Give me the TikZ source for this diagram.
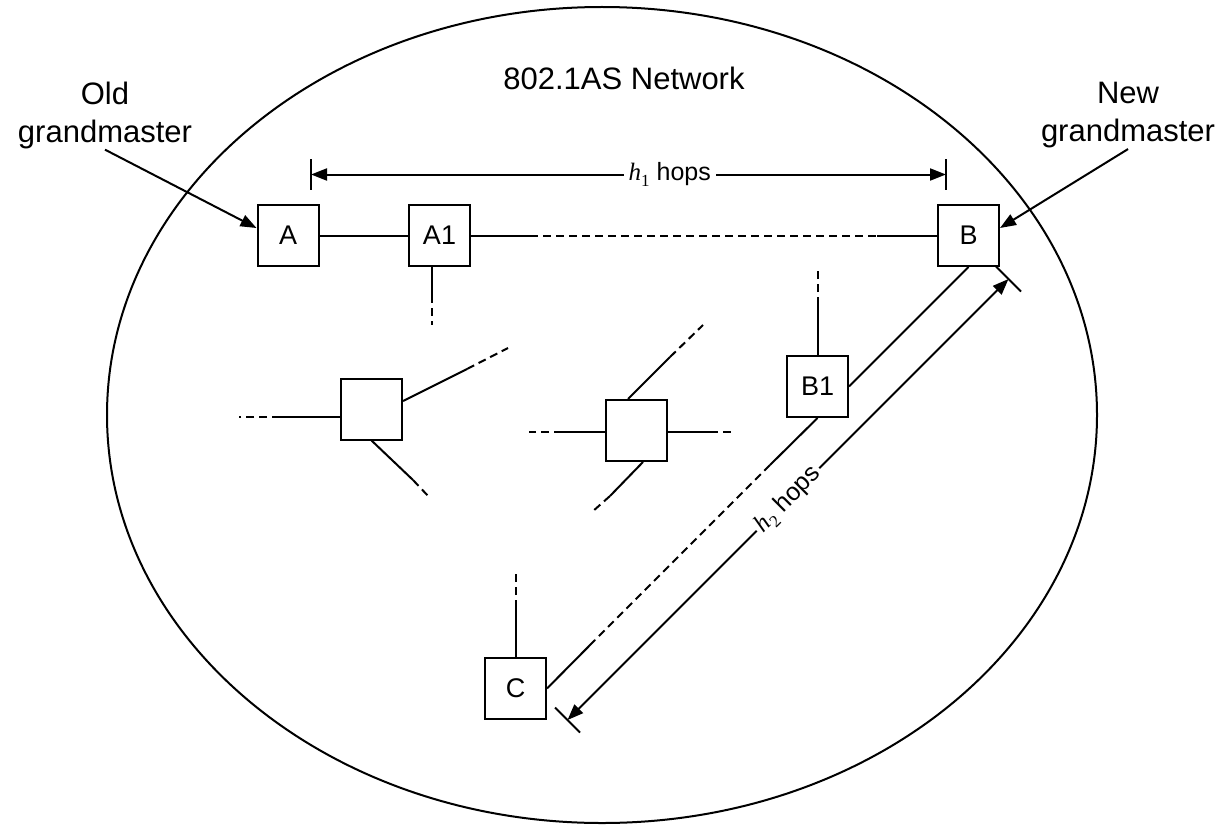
\documentclass[tikz,border=0pt]{standalone}
\usepackage{fontspec}
\setmainfont{Liberation Sans}
\newfontfamily\tnr{Liberation Serif}
\usetikzlibrary{arrows.meta}
\newcommand\hsub[1]{{\tnr\itshape h}\raisebox{-0.22em}{\fontsize{17}{17}\selectfont\tnr #1}}
\begin{document}
\begin{tikzpicture}[x=1pt,y=-1pt,
  box/.style={draw, line width=2pt, minimum size=61pt, inner sep=0pt, font=\fontsize{27}{32}\selectfont},
  wire/.style={line width=2pt},
  dwire/.style={line width=2pt, dash pattern=on 8pt off 5pt},
  tip/.style={line width=2pt, -{Triangle[length=16pt,width=12pt]}},
  dimline/.style={line width=2pt, {Triangle[length=16pt,width=12pt]}-{Triangle[length=16pt,width=12pt]}},
  big/.style={font=\fontsize{31}{38}\selectfont, align=center, inner sep=1pt},
  hops/.style={font=\fontsize{25}{30}\selectfont, fill=white, inner sep=5pt}]
\useasboundingbox (0,0) rectangle (1222,824);
\draw[line width=2pt] (602,415) ellipse [x radius=495pt, y radius=408pt];
\node[big, anchor=base] (net) at (624,90) {802.1AS Network};
\node[big] (old) at (105,115) {Old\\grandmaster};
\node[big] (new) at (1128,115) {New\\grandmaster};
% boxes
\node[box] (A)  at (288,235.5) {A};
\node[box] (A1) at (439.5,235.5) {A1};
\node[box] (B)  at (968.5,235.5) {B};
\node[box] (B1) at (817.5,386.5) {B1};
\node[box] (C)  at (515.5,688.5) {C};
\node[box] (N1) at (371.5,409) {};
\node[box] (N2) at (636,430.5) {};
% pointer arrows
\draw[tip] (old.south) -- ([yshift=7.5pt]A.west);
\draw[tip] (new.south) -- ([yshift=7.5pt]B.east);
% A - A1 - B
\draw[wire] (A.east) -- (A1.west);
\coordinate (ab1) at (530,235.5);
\coordinate (ab2) at (877,235.5);
\draw[wire] (A1.east) -- (ab1);
\draw[dwire] (ab1) -- (ab2);
\draw[wire] (ab2) -- (B.west);
% A1 down stub
\coordinate (a1s) at (432,295);
\coordinate (a1e) at (432,325);
\draw[wire] ([xshift=-7.5pt]A1.south) -- (a1s);
\draw[dwire] (a1s) -- (a1e);
% N1 stubs
\coordinate (n1ls) at (280,417); \coordinate (n1le) at (239,417);
\draw[wire] ([yshift=-8pt]N1.west) -- (n1ls);
\draw[dwire] (n1ls) -- (n1le);
\coordinate (n1rs) at (467,369); \coordinate (n1re) at (508,348);
\draw[wire] ([yshift=8pt]N1.east) -- (n1rs);
\draw[dwire] (n1rs) -- (n1re);
\coordinate (n1bs) at (413,480); \coordinate (n1be) at (430,498);
\draw[wire] (N1.south) -- (n1bs);
\draw[dwire] (n1bs) -- (n1be);
% N2 stubs
\coordinate (n2ls) at (562,432); \coordinate (n2le) at (529,432);
\draw[wire] ([yshift=-1.5pt]N2.west) -- (n2ls);
\draw[dwire] (n2ls) -- (n2le);
\coordinate (n2rs) at (710,432); \coordinate (n2re) at (733,432);
\draw[wire] ([yshift=-1.5pt]N2.east) -- (n2rs);
\draw[dwire] (n2rs) -- (n2re);
\coordinate (n2ts) at (670,357); \coordinate (n2te) at (703,325);
\draw[wire] ([xshift=-8pt]N2.north) -- (n2ts);
\draw[dwire] (n2ts) -- (n2te);
\coordinate (n2bs) at (610,496); \coordinate (n2be) at (592,512);
\draw[wire] ([xshift=7pt]N2.south) -- (n2bs);
\draw[dwire] (n2bs) -- (n2be);
% B1 stubs and links
\coordinate (b1ts) at (817.5,305); \coordinate (b1te) at (817.5,270);
\draw[wire] (B1.north) -- (b1ts);
\draw[dwire] (b1ts) -- (b1te);
\draw[wire] (B1.east) -- (B.south);
\coordinate (bc1) at (770,465); \coordinate (bc2) at (595,640);
\draw[wire] (B1.south) -- (bc1);
\draw[dwire] (bc1) -- (bc2);
\draw[wire] (bc2) -- (C.east);
% C stub
\coordinate (cts) at (515.5,608); \coordinate (cte) at (515.5,572);
\draw[wire] (C.north) -- (cts);
\draw[dwire] (cts) -- (cte);
% h1 dimension
\coordinate (h1l) at (311,174.5); \coordinate (h1r) at (946,174.5);
\draw[wire] ([yshift=15.5pt]h1l) -- ([yshift=-15.5pt]h1l);
\draw[wire] ([yshift=15.5pt]h1r) -- ([yshift=-15.5pt]h1r);
\draw[dimline] (h1l) -- node[hops, pos=0.565] {\hsub{1} hops} (h1r);
% h2 dimension
\coordinate (h2c) at (567.5,720); \coordinate (h2b) at (1008.5,279);
\draw[wire] ([shift={(-12.5,-12.5)}]h2c) -- ([shift={(12.5,12.5)}]h2c);
\draw[wire] ([shift={(-12.5,-12.5)}]h2b) -- ([shift={(12.5,12.5)}]h2b);
\draw[dimline] (h2c) -- node[hops, sloped, pos=0.5, inner sep=3pt] {\hsub{2} hops} (h2b);
\end{tikzpicture}
\end{document}
